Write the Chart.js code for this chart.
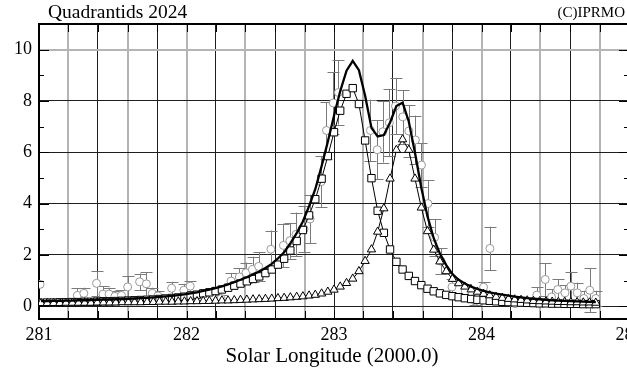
<!DOCTYPE html>
<html lang="en">
<head>
<meta charset="UTF-8">
<title>Quadrantids 2024</title>
<style>
  html, body { margin: 0; padding: 0; background: #fff; overflow: hidden; }
  #wrap { width: 640px; height: 373px; }
</style>
</head>
<body>
<div id="wrap"><canvas id="chart" width="640" height="373"></canvas></div>
<script src="https://cdn.jsdelivr.net/npm/chart.js"></script>
<script>
// model grid (hourly steps in solar longitude)
const solLong = [
  281.014, 281.056, 281.099, 281.141, 281.183, 281.226, 281.268, 281.310, 281.352, 281.395,
  281.437, 281.479, 281.521, 281.564, 281.606, 281.648, 281.690, 281.733, 281.775, 281.817,
  281.859, 281.902, 281.944, 281.986, 282.028, 282.071, 282.113, 282.155, 282.197, 282.240,
  282.282, 282.324, 282.366, 282.409, 282.451, 282.493, 282.535, 282.578, 282.620, 282.662,
  282.704, 282.747, 282.789, 282.831, 282.873, 282.916, 282.958, 283.000, 283.042, 283.085,
  283.127, 283.169, 283.211, 283.254, 283.296, 283.338, 283.380, 283.423, 283.465, 283.507,
  283.549, 283.592, 283.634, 283.676, 283.718, 283.761, 283.803, 283.845, 283.887, 283.930,
  283.972, 284.014, 284.056, 284.099, 284.141, 284.183, 284.225, 284.268, 284.310, 284.352,
  284.394, 284.437, 284.479, 284.521, 284.563, 284.606, 284.648, 284.690, 284.732, 284.775
];
// first component (squares)
const compA = [
  0.13, 0.14, 0.14, 0.15, 0.15, 0.16, 0.16, 0.17, 0.17, 0.18,
  0.19, 0.19, 0.20, 0.21, 0.22, 0.23, 0.24, 0.25, 0.26, 0.28,
  0.30, 0.32, 0.34, 0.37, 0.41, 0.45, 0.50, 0.54, 0.59, 0.65,
  0.72, 0.80, 0.88, 0.97, 1.06, 1.16, 1.29, 1.43, 1.62, 1.85,
  2.17, 2.54, 2.97, 3.54, 4.17, 4.97, 5.85, 6.78, 7.62, 8.28,
  8.50, 7.88, 6.46, 4.99, 3.72, 2.86, 2.21, 1.73, 1.43, 1.18,
  0.98, 0.82, 0.68, 0.58, 0.50, 0.44, 0.39, 0.35, 0.31, 0.28,
  0.25, 0.23, 0.21, 0.19, 0.17, 0.16, 0.15, 0.14, 0.13, 0.12,
  0.11, 0.11, 0.10, 0.10, 0.09, 0.09, 0.09, 0.08, 0.08, 0.08
];
// second component (triangles)
const compB = [
  0.12, 0.12, 0.12, 0.12, 0.13, 0.13, 0.13, 0.13, 0.13, 0.14,
  0.14, 0.14, 0.14, 0.15, 0.15, 0.15, 0.15, 0.16, 0.16, 0.17,
  0.17, 0.17, 0.18, 0.18, 0.19, 0.19, 0.20, 0.20, 0.21, 0.22,
  0.22, 0.23, 0.24, 0.25, 0.26, 0.27, 0.28, 0.29, 0.31, 0.32,
  0.34, 0.36, 0.38, 0.41, 0.44, 0.49, 0.56, 0.64, 0.76, 0.90,
  1.07, 1.36, 1.76, 2.21, 2.90, 3.81, 4.97, 6.09, 6.50, 6.09,
  4.97, 3.84, 2.92, 2.20, 1.74, 1.36, 1.06, 0.89, 0.76, 0.65,
  0.56, 0.48, 0.42, 0.36, 0.32, 0.28, 0.26, 0.24, 0.22, 0.20,
  0.19, 0.18, 0.17, 0.16, 0.16, 0.15, 0.15, 0.14, 0.14, 0.13
];
// combined model (thick line)
const compSum = [
  0.20, 0.20, 0.21, 0.21, 0.22, 0.22, 0.23, 0.23, 0.24, 0.25,
  0.26, 0.26, 0.27, 0.28, 0.29, 0.30, 0.31, 0.32, 0.34, 0.36,
  0.38, 0.40, 0.43, 0.46, 0.50, 0.54, 0.60, 0.65, 0.70, 0.77,
  0.85, 0.94, 1.03, 1.13, 1.24, 1.35, 1.49, 1.65, 1.86, 2.10,
  2.45, 2.85, 3.30, 3.90, 4.56, 5.46, 6.41, 7.42, 8.38, 9.18,
  9.56, 9.20, 8.20, 6.95, 6.62, 6.67, 7.16, 7.80, 7.93, 7.20,
  5.98, 4.62, 3.50, 2.65, 2.05, 1.60, 1.25, 1.03, 0.88, 0.76,
  0.67, 0.60, 0.54, 0.49, 0.45, 0.41, 0.37, 0.34, 0.31, 0.29,
  0.27, 0.25, 0.23, 0.22, 0.21, 0.20, 0.19, 0.18, 0.17, 0.16
];
// observations (circles) with error bars
const obsLong = [
  281.007, 281.260, 281.304, 281.390, 281.434, 281.475, 281.514, 281.559, 281.601, 281.682,
  281.728, 281.768, 281.806, 281.899, 281.982, 282.025, 282.234, 282.302, 282.358, 282.403,
  282.448, 282.489, 282.572, 282.657, 282.701, 282.743, 282.797, 282.838, 282.912, 282.949,
  282.995, 283.030, 283.247, 283.293, 283.331, 283.375, 283.417, 283.466, 283.507, 283.552,
  283.593, 283.637, 283.682, 283.726, 283.800, 283.890, 283.957, 284.014, 284.057, 284.228,
  284.375, 284.432, 284.475, 284.517, 284.566, 284.606, 284.649, 284.694, 284.734, 284.775
];
const obsRate = [
  0.85, 0.42, 0.50, 0.89, 0.47, 0.47, 0.38, 0.42, 0.75, 0.95,
  0.87, 0.50, 0.40, 0.70, 0.62, 0.78, 0.30, 0.98, 1.14, 1.30,
  1.43, 1.55, 2.22, 2.37, 2.55, 2.80, 3.00, 3.40, 4.85, 6.85,
  7.92, 8.33, 6.85, 6.10, 6.80, 7.15, 7.80, 7.38, 6.83, 6.48,
  5.50, 4.00, 2.68, 1.75, 0.75, 0.60, 0.20, 0.74, 2.25, 0.10,
  0.43, 1.04, 0.36, 0.65, 0.52, 0.78, 0.52, 0.30, 0.62, 0.30
];
const obsErr = [
  0.00, 0.27, 0.22, 0.48, 0.30, 0.25, 0.20, 0.20, 0.41, 0.32,
  0.46, 0.22, 0.20, 0.25, 0.25, 0.20, 0.15, 0.30, 0.35, 0.40,
  0.50, 0.56, 0.73, 0.85, 0.70, 0.85, 0.90, 0.95, 1.00, 1.10,
  1.20, 1.25, 1.20, 1.15, 1.20, 1.30, 1.10, 1.05, 1.00, 0.95,
  0.85, 0.90, 0.72, 0.50, 0.30, 0.25, 0.15, 0.20, 0.85, 0.10,
  0.30, 0.64, 0.30, 0.40, 0.30, 0.56, 0.40, 0.30, 0.85, 0.30
];
const xLabels = [281, 282, 283, 284, 285];
const yLabels = [0, 2, 4, 6, 8, 10];

const serif = '"Liberation Serif", "Times New Roman", serif';
const darkGrid = '#1e1e1e';
const lightGrid = '#b4b4b4';

function pts(xs, ys) {
  return xs.map((x, i) => ({ x: x, y: ys[i] }));
}

// error bars, frame ticks and texts
const decorations = {
  id: 'decorations',
  beforeDatasetsDraw(chart) {
    const ctx = chart.ctx, xs = chart.scales.x, ys = chart.scales.y, a = chart.chartArea;
    ctx.save();
    ctx.beginPath();
    ctx.rect(a.left, a.top, a.right - a.left, a.bottom - a.top);
    ctx.clip();
    ctx.strokeStyle = '#7a7a7a';
    ctx.lineWidth = 1;
    obsLong.forEach((l, i) => {
      if (!obsErr[i]) return;
      const px = Math.round(xs.getPixelForValue(l)) + 0.5;
      const top = ys.getPixelForValue(obsRate[i] + obsErr[i]);
      const bot = ys.getPixelForValue(obsRate[i] - obsErr[i]);
      ctx.beginPath();
      ctx.moveTo(px, top); ctx.lineTo(px, bot);
      ctx.moveTo(px - 6, Math.round(top) + 0.5); ctx.lineTo(px + 6, Math.round(top) + 0.5);
      ctx.moveTo(px - 6, Math.round(bot) + 0.5); ctx.lineTo(px + 6, Math.round(bot) + 0.5);
      ctx.stroke();
    });
    ctx.restore();
  },
  afterDraw(chart) {
    const ctx = chart.ctx, xs = chart.scales.x, ys = chart.scales.y, a = chart.chartArea;
    ctx.save();
    ctx.strokeStyle = '#000';
    ctx.lineWidth = 1;
    // inward ticks on left and right
    for (let v = 0; v <= 11; v++) {
      const py = Math.round(ys.getPixelForValue(v)) + 0.5;
      const len = v % 2 === 0 ? 10 : 5;
      ctx.beginPath();
      ctx.moveTo(a.left, py); ctx.lineTo(a.left + len, py);
      ctx.moveTo(a.right, py); ctx.lineTo(a.right - len, py);
      ctx.stroke();
    }
    // inward ticks on top and bottom
    for (let k = 1; k < 20; k++) {
      const px = Math.round(xs.getPixelForValue(281 + k * 0.2)) + 0.5;
      ctx.beginPath();
      ctx.moveTo(px, a.top); ctx.lineTo(px, a.top + 8);
      ctx.moveTo(px, a.bottom); ctx.lineTo(px, a.bottom - 8);
      ctx.stroke();
    }
    // top frame
    ctx.lineWidth = 2;
    ctx.beginPath();
    ctx.moveTo(a.left - 1, a.top); ctx.lineTo(a.right, a.top);
    ctx.stroke();

    ctx.fillStyle = '#000';
    ctx.textBaseline = 'alphabetic';
    ctx.font = '18px ' + serif;
    ctx.textAlign = 'center';
    xLabels.forEach(v => ctx.fillText(String(v), xs.getPixelForValue(v), 340));

    ctx.font = '21px ' + serif;
    ctx.fillText('Solar Longitude (2000.0)', 332, 362);

    ctx.textAlign = 'left';
    ctx.font = '19.5px ' + serif;
    ctx.fillText('Quadrantids 2024', 48, 18);

    ctx.textAlign = 'right';
    ctx.font = '15px ' + serif;
    ctx.fillText('(C)IPRMO', 625, 17);
    ctx.restore();
  }
};

new Chart(document.getElementById('chart'), {
  type: 'scatter',
  data: {
    datasets: [
      {
        label: 'sum',
        data: pts(solLong, compSum),
        showLine: true,
        borderColor: '#000',
        borderWidth: 2.3,
        pointRadius: 0,
        order: 0
      },
      {
        label: 'component 2',
        data: pts(solLong, compB),
        showLine: true,
        borderColor: '#000',
        borderWidth: 1,
        pointStyle: 'triangle',
        pointRadius: 4.8,
        pointBorderWidth: 1,
        pointBorderColor: '#000',
        pointBackgroundColor: '#fff',
        order: 1
      },
      {
        label: 'component 1',
        data: pts(solLong, compA),
        showLine: true,
        borderColor: '#000',
        borderWidth: 1,
        pointStyle: 'rect',
        pointRadius: 5.2,
        pointBorderWidth: 1,
        pointBorderColor: '#000',
        pointBackgroundColor: '#fff',
        order: 2
      },
      {
        label: 'observed',
        data: pts(obsLong, obsRate),
        showLine: false,
        pointStyle: 'circle',
        pointRadius: 4,
        pointBorderWidth: 1,
        pointBorderColor: '#999',
        pointBackgroundColor: '#fff',
        order: 3
      }
    ]
  },
  options: {
    responsive: false,
    animation: false,
    layout: { padding: { top: 24, right: 11, left: 0, bottom: 0 } },
    plugins: { legend: { display: false }, tooltip: { enabled: false } },
    scales: {
      x: {
        type: 'linear',
        min: 281,
        max: 285,
        afterFit: s => { s.height = 54; },
        ticks: { stepSize: 0.2, display: false },
        grid: {
          drawTicks: false,
          color: c => (Math.round((c.tick.value - 281) / 0.2) % 2 ? lightGrid : darkGrid),
          lineWidth: c => (Math.round((c.tick.value - 281) / 0.2) % 2 ? 2 : 1)
        },
        border: { display: true, width: 2, color: '#000' }
      },
      y: {
        min: -0.5,
        max: 11,
        afterFit: s => { s.width = 39; },
        ticks: {
          stepSize: 1,
          includeBounds: false,
          padding: 7,
          color: '#000',
          font: { family: serif, size: 18 },
          callback: v => (yLabels.includes(v) ? v : '')
        },
        grid: {
          drawTicks: false,
          color: c => (c.tick.value === 10 ? lightGrid : (c.tick.value % 2 === 0 && c.tick.value <= 10 ? darkGrid : 'rgba(0,0,0,0)')),
          lineWidth: c => (c.tick.value === 10 ? 2 : 1)
        },
        border: { display: true, width: 2, color: '#000' }
      }
    }
  },
  plugins: [decorations]
});
</script>
</body>
</html>
